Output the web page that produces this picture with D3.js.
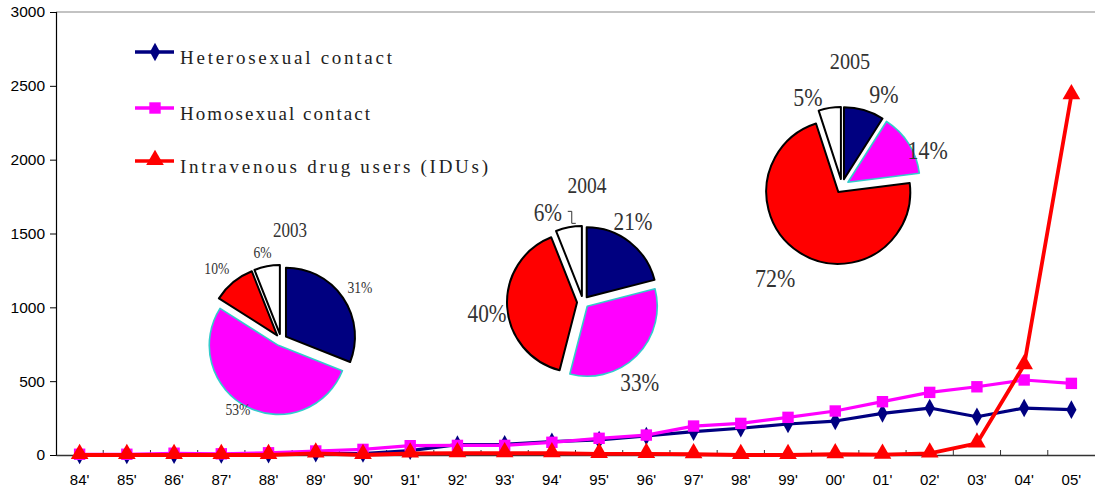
<!DOCTYPE html>
<html>
<head>
<meta charset="utf-8">
<script src="https://cdn.jsdelivr.net/npm/d3@7"></script>
<style>
  html, body { margin: 0; padding: 0; background: #fff; }
  svg { display: block; }
</style>
</head>
<body>
<svg id="chart" width="1095" height="491"></svg>
<script>
// ---------- data ----------
const categories = ["84'","85'","86'","87'","88'","89'","90'","91'","92'","93'","94'","95'","96'","97'","98'","99'","00'","01'","02'","03'","04'","05'"];
const heteroValues = [0,0,2,3,5,12,10,30,70,72,90,102,129,158,181,210,230,282,318,259,318,307];
const homoValues   = [5,5,12,8,15,27,38,63,65,65,86,113,135,196,214,255,298,361,424,462,508,485];
const iduValues    = [0,0,0,0,0,11,0,10,12,12,12,8,8,5,0,0,5,2,11,79,609,2437];
const yTicks = [0,500,1000,1500,2000,2500,3000];
const seriesNames = ["Heterosexual contact","Homosexual contact","Intravenous drug users (IDUs)"];
const pieSliceNames = ["Heterosexual","Homosexual","IDUs","Other"];
const pieYears = ["2003","2004","2005"];
const pie2003 = [31,53,10,6];
const pie2004 = [21,33,40,6];
const pie2005 = [9,14,72,5];

// ---------- layout ----------
const svg = d3.select("#chart");
const plotL = 56, plotR = 1095, plotT = 12, plotB = 455;
const x = d3.scaleBand().domain(categories).range([plotL, plotR]).padding(0);
const y = d3.scaleLinear().domain([0,3000]).range([plotB, plotT]);
const cx = d => x(d) + x.bandwidth()/2;

const colors = { hetero: "#000080", homo: "#FF00FF", idu: "#FF0000" };

// top border
svg.append("line").attr("x1", plotL).attr("x2", plotR).attr("y1", y(3000)).attr("y2", y(3000))
  .attr("stroke", "#888").attr("stroke-width", 1.2);

// y axis
const yAxis = svg.append("g").attr("transform", `translate(${plotL},0)`)
  .call(d3.axisLeft(y).tickValues(yTicks).tickSize(6).tickPadding(5).tickFormat(d3.format("d")));
yAxis.select(".domain").attr("stroke", "#000").attr("stroke-width", 1.2);
yAxis.selectAll(".tick line").attr("stroke", "#000");
yAxis.selectAll("text").attr("font-family", "Liberation Sans, Arial, sans-serif").attr("font-size", 15.5).attr("fill", "#000");

// x axis
const xAxis = svg.append("g").attr("transform", `translate(0,${plotB})`)
  .call(d3.axisBottom(x).tickSize(0).tickPadding(19));
xAxis.select(".domain").attr("stroke", "#333").attr("stroke-width", 1.5);
xAxis.selectAll("text").attr("font-family", "Liberation Sans, Arial, sans-serif").attr("font-size", 15).attr("fill", "#000");
// inner tick marks at category boundaries
svg.append("g").selectAll("line").data(categories.slice(1)).join("line")
  .attr("x1", d => x(d)).attr("x2", d => x(d))
  .attr("y1", plotB).attr("y2", plotB - 5)
  .attr("stroke", "#333").attr("stroke-width", 1);

// ---------- pies ----------
const pieGen = d3.pie().sort(null).value(d => d);
const pieFill = ["#000080", "#FF00FF", "#FF0000", "#FFFFFF"];
const pieStroke = ["#000", "#33CCCC", "#000", "#000"];
const pieStrokeW = [2, 1.6, 2, 2];
const toRad = deg => deg * Math.PI / 180;

function drawPie(values, year, cxp, cyp, r, explode, labelAng, labelK, labelSize, titleSize, titleDx, titleDy, labelScale) {
  const g = svg.append("g").attr("transform", `translate(${cxp},${cyp})`);
  const arcs = pieGen(values);
  const arc = d3.arc().innerRadius(0).outerRadius(r);
  arcs.forEach((a, i) => {
    const mid = (a.startAngle + a.endAngle) / 2;
    const dx = Math.sin(mid) * explode, dy = -Math.cos(mid) * explode;
    g.append("path").attr("d", arc(a)).attr("transform", `translate(${dx},${dy})`)
      .attr("fill", pieFill[i]).attr("stroke", pieStroke[i]).attr("stroke-width", pieStrokeW[i])
      .attr("stroke-linejoin", "round");
    const la = toRad(labelAng[i]), lr = r * labelK[i];
    g.append("text")
      .attr("transform", `translate(${Math.sin(la) * lr},${-Math.cos(la) * lr}) scale(${labelScale},1)`)
      .attr("text-anchor", "middle").attr("dominant-baseline", "central")
      .attr("font-family", "Liberation Serif, Times New Roman, serif").attr("font-size", labelSize)
      .attr("fill", "#333").text(values[i] + "%");
  });
  g.append("text")
    .attr("transform", `translate(${titleDx},${-r + titleDy}) scale(${labelScale},1)`)
    .attr("text-anchor", "middle").attr("dominant-baseline", "central")
    .attr("font-family", "Liberation Serif, Times New Roman, serif").attr("font-size", titleSize)
    .attr("fill", "#333").text(year);
  return { g, arcs };
}

drawPie(pie2003, pieYears[0], 281, 340, 69, 6, [56.6, 211.6, 318, 348], [1.37, 1.19, 1.39, 1.29], 16, 20, 9, -41, 0.85);
const p4 = drawPie(pie2004, pieYears[1], 583, 302, 70, 6, [31.7, 144.9, 263.5, 338.5], [1.36, 1.41, 1.38, 1.37], 25, 23, 4, -47, 0.85);
drawPie(pie2005, pieYears[2], 842, 186, 72, 7, [24.5, 67.3, 216, 339], [1.40, 1.29, 1.58, 1.32], 25, 23, 8, -52, 0.88);

// leader bracket for 2004 "6%"
{
  const a = p4.arcs[3];
  const mid = (a.startAngle + a.endAngle) / 2;
  const ox = Math.sin(mid) * 76, oy = -Math.cos(mid) * 76;
  p4.g.append("path")
    .attr("d", `M${ox - 1},${oy - 16} H${ox + 3} V${oy - 4} H${ox + 7}`)
    .attr("fill", "none").attr("stroke", "#333").attr("stroke-width", 1);
}

// ---------- lines ----------
const lineGen = d3.line().x((d, i) => cx(categories[i])).y(d => y(d));
const series = [
  { name: seriesNames[0], values: heteroValues, color: colors.hetero, marker: "diamond", w: 3.2 },
  { name: seriesNames[1], values: homoValues, color: colors.homo, marker: "square", w: 3.2 },
  { name: seriesNames[2], values: iduValues, color: colors.idu, marker: "triangle", w: 3.8 }
];
const symbolFor = m => m === "diamond" ? d3.symbol().type(d3.symbolDiamond).size(100)
  : m === "square" ? d3.symbol().type(d3.symbolSquare).size(130)
  : d3.symbol().type(d3.symbolTriangle).size(135);

series.forEach(s => {
  svg.append("path").datum(s.values).attr("d", lineGen)
    .attr("fill", "none").attr("stroke", s.color).attr("stroke-width", s.w).attr("stroke-linejoin", "round");
  const sym = symbolFor(s.marker);
  svg.append("g").selectAll("path").data(s.values).join("path")
    .attr("d", sym)
    .attr("transform", (d, i) => `translate(${cx(categories[i])},${y(d) + (s.marker === "triangle" ? -1 : 0)})${s.marker === "diamond" ? " scale(0.95,1)" : ""}`)
    .attr("fill", s.color);
});

// ---------- legend ----------
const legendY = [52, 108, 161];
const legendTextW = [212, 190, 308];
series.forEach((s, i) => {
  const g = svg.append("g");
  g.append("line").attr("x1", 135).attr("x2", 174).attr("y1", legendY[i]).attr("y2", legendY[i])
    .attr("stroke", s.color).attr("stroke-width", 3.5);
  g.append("path").attr("d", symbolFor(s.marker)())
    .attr("transform", `translate(155,${legendY[i] + (s.marker === "triangle" ? -1 : 0)})${s.marker === "diamond" ? " scale(0.95,1)" : ""}`)
    .attr("fill", s.color);
  g.append("text").attr("x", 180).attr("y", legendY[i] + 12)
    .attr("font-family", "Liberation Serif, Times New Roman, serif").attr("font-size", 19)
    .attr("fill", "#222").attr("textLength", legendTextW[i]).attr("lengthAdjust", "spacing")
    .text(s.name);
});
</script>
</body>
</html>
